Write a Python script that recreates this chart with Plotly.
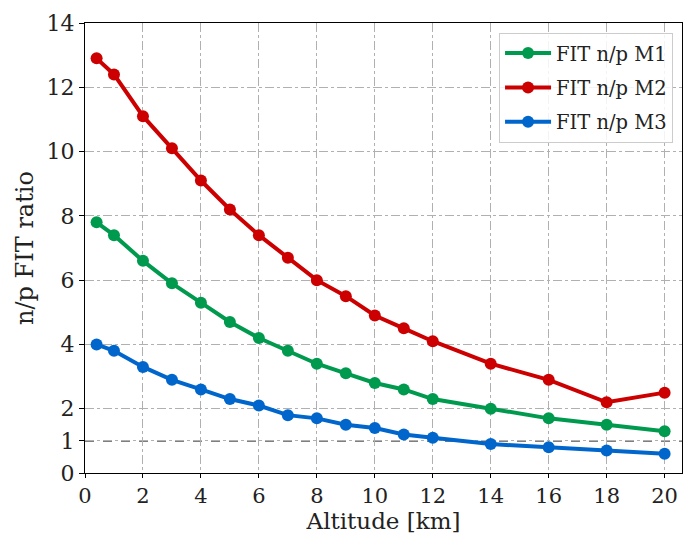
import plotly.graph_objects as go

altitude = [0.4, 1, 2, 3, 4, 5, 6, 7, 8, 9, 10, 11, 12, 14, 16, 18, 20]
fit_m1 = [7.8, 7.4, 6.6, 5.9, 5.3, 4.7, 4.2, 3.8, 3.4, 3.1, 2.8, 2.6, 2.3, 2.0, 1.7, 1.5, 1.3]
fit_m2 = [12.9, 12.4, 11.1, 10.1, 9.1, 8.2, 7.4, 6.7, 6.0, 5.5, 4.9, 4.5, 4.1, 3.4, 2.9, 2.2, 2.5]
fit_m3 = [4.0, 3.8, 3.3, 2.9, 2.6, 2.3, 2.1, 1.8, 1.7, 1.5, 1.4, 1.2, 1.1, 0.9, 0.8, 0.7, 0.6]

series = [
    ("FIT n/p M1", fit_m1, "#009a4e"),
    ("FIT n/p M2", fit_m2, "#cc0000"),
    ("FIT n/p M3", fit_m3, "#0066cc"),
]

x_ticks = list(range(0, 21, 2))
y_ticks = [0, 1, 2, 4, 6, 8, 10, 12, 14]
reference_level = 1

font_family = "DejaVu Serif"

fig = go.Figure()

# unity reference line
fig.add_shape(type="line", xref="paper", x0=0, x1=1, yref="y",
              y0=reference_level, y1=reference_level,
              line=dict(color="black", width=1.3, dash="dash"), layer="below")

for name, values, color in series:
    fig.add_trace(go.Scatter(
        x=altitude, y=values, name=name, mode="lines+markers",
        legendgroup=name,
        line=dict(color=color, width=4),
        marker=dict(color=color, size=12),
    ))

fig.update_layout(
    width=683, height=536,
    margin=dict(l=85, r=1, t=23, b=63),
    plot_bgcolor="white", paper_bgcolor="white",
    font=dict(family=font_family, size=21, color="#222"),
    showlegend=True,
    legend=dict(
        x=0.985, y=0.978, xanchor="right", yanchor="top",
        bgcolor="rgba(255,255,255,0.85)", bordercolor="#cccccc", borderwidth=1,
        font=dict(family=font_family, size=19.5, color="#222"),
        itemwidth=46, traceorder="grouped", tracegroupgap=6,
    ),
)

fig.update_xaxes(
    range=[0, 20.6], tickvals=x_ticks, ticks="outside", ticklen=4,
    tickcolor="black", showline=True, linecolor="black", linewidth=1.3,
    mirror=True, showgrid=True, gridcolor="#b0b0b0", griddash="dashdot",
    gridwidth=1, zeroline=False,
    title=dict(text="Altitude [km]", font=dict(size=23), standoff=4),
    tickfont=dict(size=21),
)
fig.update_yaxes(
    range=[0, 14], tickvals=y_ticks, ticks="outside", ticklen=5,
    tickcolor="black", showline=True, linecolor="black", linewidth=1.3,
    mirror=True, showgrid=True, gridcolor="#b0b0b0", griddash="dashdot",
    gridwidth=1, zeroline=False,
    title=dict(text="n/p FIT ratio", font=dict(size=24), standoff=6),
    tickfont=dict(size=22),
)

fig.write_html("out.html")
